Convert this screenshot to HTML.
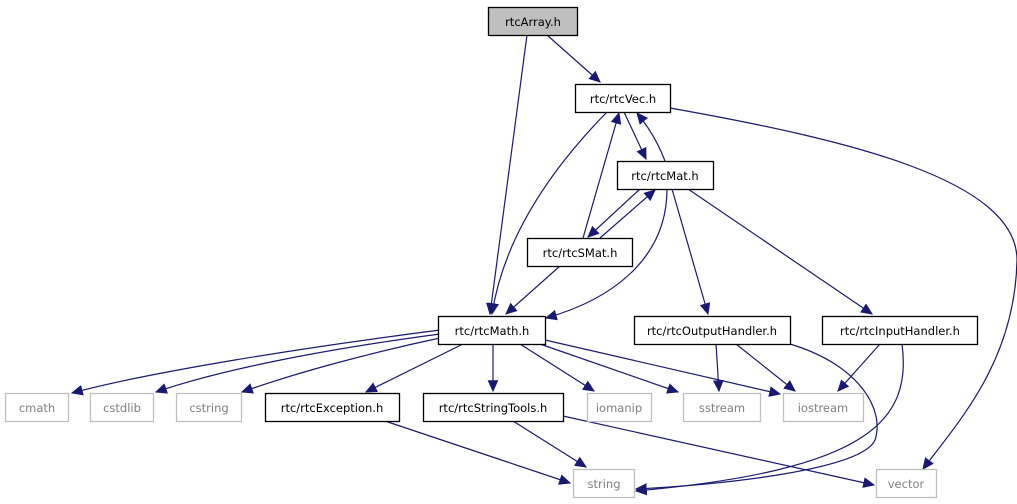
<!DOCTYPE html>
<html><head><meta charset="utf-8"><style>
html,body{margin:0;padding:0;background:#fff;width:1017px;height:504px;overflow:hidden}
text{font-family:"DejaVu Sans","Liberation Sans",sans-serif;font-size:11.5px;text-anchor:middle}
</style></head><body>
<svg width="1017" height="504" viewBox="0 0 1017 504" xmlns="http://www.w3.org/2000/svg">
<defs><marker id="a" viewBox="0 0 10 10" refX="9" refY="5" markerWidth="12" markerHeight="12" markerUnits="userSpaceOnUse" orient="auto"><path d="M0,0.5 L10,5 L0,9.5 z" fill="#191970"/></marker></defs>
<g fill="none" stroke="#191970" stroke-width="1.2" marker-end="url(#a)">
<path d="M547,35 L600,82"/>
<path d="M527,35 L490,314"/>
<path d="M607,112 C560,160 505,230 492,314"/>
<path d="M624,112 L646,159"/>
<path d="M665,161 C657,140 647,125 637,113"/>
<path d="M583,238 L619,113"/>
<path d="M640,189 L588,237"/>
<path d="M600,238 L655,190"/>
<path d="M560,266 L506,314"/>
<path d="M667,189 C667,260 610,300 546,318"/>
<path d="M672,189 L708,314"/>
<path d="M688,189 L872,314"/>
<path d="M670,108 C850,140 1017,180 1017,260 C1015,360 960,420 923,469"/>
<path d="M440,330 C300,348 150,372 72,393"/>
<path d="M440,334 C320,350 220,370 156,392"/>
<path d="M440,338 C360,355 290,375 242,392"/>
<path d="M463,344 L366,392"/>
<path d="M493,344 L493,391"/>
<path d="M520,344 L594,391"/>
<path d="M540,344 L678,392"/>
<path d="M545,340 L780,394"/>
<path d="M716,344 L719,391"/>
<path d="M736,344 L795,391"/>
<path d="M790,344 C860,365 885,410 875,440 C862,470 720,485 636,489"/>
<path d="M880,344 L838,391"/>
<path d="M902,344 C912,420 870,470 636,491"/>
<path d="M385,421 L570,483"/>
<path d="M513,421 L586,467"/>
<path d="M563,416 L874,485"/>
</g>
<g stroke-width="1.3">
<rect x="488.5" y="7.5" width="89" height="28" fill="#bfbfbf" stroke="#000"/>
<rect x="575.5" y="84.5" width="95" height="28" fill="#fff" stroke="#000"/>
<rect x="617.5" y="161.5" width="96" height="28" fill="#fff" stroke="#000"/>
<rect x="527.5" y="238.5" width="105" height="28" fill="#fff" stroke="#000"/>
<rect x="438.5" y="316.5" width="107" height="28" fill="#fff" stroke="#000"/>
<rect x="634.5" y="316.5" width="156" height="28" fill="#fff" stroke="#000"/>
<rect x="822.5" y="316.5" width="155" height="28" fill="#fff" stroke="#000"/>
<rect x="265.5" y="393.5" width="134" height="28" fill="#fff" stroke="#000"/>
<rect x="423.5" y="393.5" width="140" height="28" fill="#fff" stroke="#000"/>
</g>
<g fill="#fff" stroke="#bfbfbf" stroke-width="1.3">
<rect x="5.5" y="393.5" width="63" height="28"/>
<rect x="90.5" y="393.5" width="63" height="28"/>
<rect x="176.5" y="393.5" width="65" height="28"/>
<rect x="587.5" y="393.5" width="64" height="28"/>
<rect x="683.5" y="393.5" width="77" height="28"/>
<rect x="783.5" y="393.5" width="80" height="28"/>
<rect x="573.5" y="469.5" width="61" height="28"/>
<rect x="876.5" y="469.5" width="60" height="28"/>
</g>
<g fill="#000">
<text x="533" y="26">rtcArray.h</text>
<text x="623" y="103">rtc/rtcVec.h</text>
<text x="665" y="180">rtc/rtcMat.h</text>
<text x="580" y="257">rtc/rtcSMat.h</text>
<text x="492" y="335">rtc/rtcMath.h</text>
<text x="712" y="335">rtc/rtcOutputHandler.h</text>
<text x="900" y="335">rtc/rtcInputHandler.h</text>
<text x="332" y="412">rtc/rtcException.h</text>
<text x="493" y="412">rtc/rtcStringTools.h</text>
</g>
<g fill="#7f7f7f">
<text x="37" y="412">cmath</text>
<text x="122" y="412">cstdlib</text>
<text x="209" y="412">cstring</text>
<text x="619" y="412">iomanip</text>
<text x="722" y="412">sstream</text>
<text x="823" y="412">iostream</text>
<text x="604" y="488">string</text>
<text x="906" y="488">vector</text>
</g>
</svg>
</body></html>
